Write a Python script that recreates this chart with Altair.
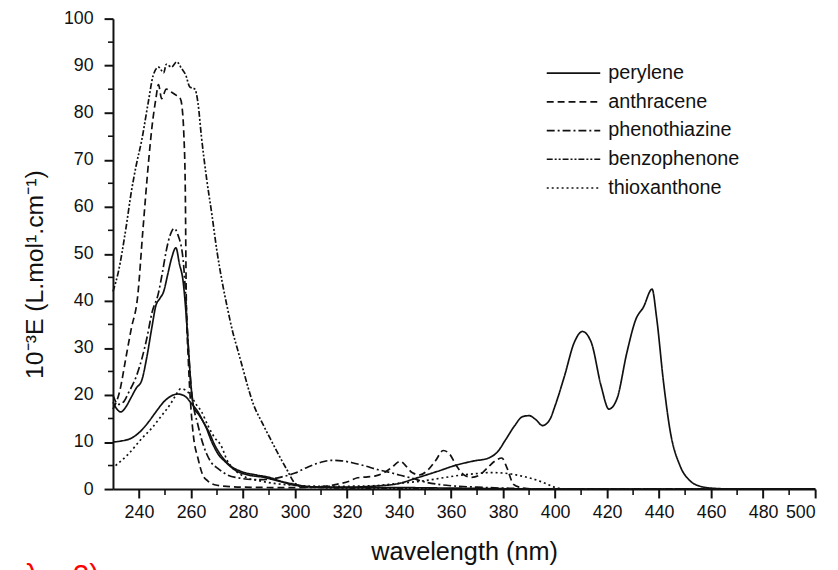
import altair as alt
import pandas as pd

# ---- values (wavelength in nm, 10^-3 E) ----
perylene_nm = [230, 231.5, 233, 235, 237, 239, 241, 243, 245, 246.5, 248, 249.5, 251, 252.5, 254.2, 255.5, 257, 258, 259, 260, 261,
               263, 265.5, 268, 271, 273, 277, 282, 288, 295, 300, 310, 320, 330, 340, 346.5, 355, 361.5, 369, 374, 378, 381,
               384.5, 387.5, 390, 392.5, 395.2, 398, 400, 403.6, 407.4, 410.5, 413.9, 417.7, 420.7, 423.8, 427.6, 431, 434,
               437.3, 439, 441.7, 444.3, 448, 452, 455.7, 460, 470, 500]
perylene_e = [18.5, 17, 16.4, 17.5, 19.5, 21.5, 23, 28, 34.5, 39, 40.5, 42, 45.5, 49, 51.3, 48, 44, 38, 30, 22, 17.5,
              15.8, 13.5, 10, 7, 5.9, 4, 3, 2.5, 1.5, 0.8, 0.4, 0.4, 0.6, 1.2, 2.3, 3.8, 5, 6, 6.5, 8, 10.5,
              13.5, 15.4, 15.6, 14.8, 13.5, 14.8, 17.7, 24, 31.2, 33.5, 31.2, 21.9, 17, 19.2, 29, 36, 38.7,
              42.5, 36.6, 22.7, 12.2, 5, 1.7, 0.6, 0.2, 0, 0]

perylene_b_nm = [230, 233, 237, 241, 244, 246.5, 250, 255, 258, 260, 262.7, 265, 267, 269, 271.5, 275, 279, 285, 290, 295,
                 300, 305, 320, 340, 360, 400, 500]
perylene_b_e = [10, 10.2, 10.8, 12.5, 14.5, 16.4, 18.8, 20.2, 19.6, 18.3, 16.4, 14, 12, 9.5, 7.2, 5, 3.8, 3, 2.5, 1.6,
                1, 0.5, 0.3, 0.3, 0.2, 0, 0]

anthracene_nm = [230, 232.5, 235, 237, 239.5, 241.5, 243.7, 245, 246.5, 247.5, 248.7, 250.5, 252.4, 254.4, 255.9, 256.6, 257.2,
                 257.8, 258.2, 259, 260, 261, 262.7, 264.5, 266.5, 270, 280, 300, 310, 316, 321, 324, 328, 331, 334, 337,
                 340.5, 342.5, 345, 348, 351, 354, 357, 359.5, 362, 365, 368, 371, 374, 377, 379.5, 381.5, 384, 387, 392, 500]
anthracene_e = [17, 20.6, 28, 34, 41, 55, 69.7, 77, 83, 86, 83, 85, 84.4, 83.7, 83, 81, 76,
                64, 40, 27, 17, 11, 6.5, 3, 1.7, 0.8, 0.4, 0.3, 0.5, 1, 1.7, 2.4, 2.6, 2.8, 3.4, 4.5,
                5.9, 5, 3.5, 3, 4, 6, 8.2, 7.4, 5, 3, 2.5, 3, 4.5, 6, 6.6, 4.5, 1, 0.3, 0, 0]

phenothiazine_nm = [230, 232, 234, 236, 239, 241, 243, 245, 247.5, 249, 250.5, 252, 253.5, 255, 257, 258.2, 259, 260, 261,
                    262.5, 264, 266, 268, 270.3, 274, 279, 285, 290, 295, 300, 305, 310, 314, 318, 322, 327, 332, 336,
                    340, 345, 350, 355, 360, 370, 380, 400, 500]
phenothiazine_e = [20, 18, 18.5, 20.5, 24, 27.5, 32, 37.5, 41.7, 46, 50.7, 54, 55.4, 54, 48.6, 38.7, 30, 22, 17.5,
                   14, 10.7, 7.5, 5.5, 4.4, 3, 2.3, 2, 2.1, 2.6, 3.4, 4.7, 5.7, 6.1, 6.0, 5.6, 4.9, 4.1, 3.6,
                   3, 2.3, 1.5, 1, 0.7, 0.4, 0.2, 0, 0]

benzophenone_nm = [230, 232, 235, 237, 239, 241, 243.5, 245.5, 247.5, 249.5, 250.5, 252.5, 254.5, 256.5, 258, 259.5, 261.5,
                   262.7, 264, 266, 268, 270, 272, 274, 276, 278, 280, 282, 284, 287, 290.5, 294, 297, 300, 303, 310,
                   320, 340, 360, 500]
benzophenone_e = [42, 46, 55.5, 63, 69, 74, 82, 88, 89.7, 88.5, 90.3, 89.7, 90.8, 89.3, 88, 85.5, 85,
                  82, 75, 66, 58.5, 50.5, 44, 38.5, 33.5, 29.5, 25.5, 21.5, 18, 14.5, 10.7, 7, 4, 1.2, 0.5, 0.3,
                  0.2, 0.1, 0, 0]

thioxanthone_nm = [231, 236, 241, 245, 248.7, 252, 254, 256, 258, 260, 262, 264, 266.5, 269, 271.5, 274, 277, 281, 286, 292,
                   300, 310, 320, 330, 340, 350, 357, 363, 370, 375, 380, 385, 390, 395, 398, 401, 405, 420]
thioxanthone_e = [5, 7.5, 10.7, 13, 15.6, 18, 19.8, 21.3, 21, 19.8, 18, 16.5, 13.5, 11, 9.3, 6, 4, 2.5, 1.8, 1.2,
                  0.8, 0.6, 0.6, 0.7, 1.2, 1.8, 2.4, 2.9, 3.3, 3.5, 3.4, 3, 2.4, 1.5, 0.8, 0.2, 0, 0]

legend_labels = ["perylene", "anthracene", "phenothiazine", "benzophenone", "thioxanthone"]
dash_patterns = [[1, 0], [7, 4], [8, 3, 2, 3], [6, 2, 2, 2, 2, 2], [2, 3]]

x_major = list(range(240, 501, 20))
x_minor = list(range(250, 500, 20))
y_major = list(range(0, 101, 10))
y_minor = list(range(5, 100, 10))

note_text = ["λ\u00a0\u00a0\u00a0\u00a02)"]

# ---- build tables ----
curves = [
    ("perylene", "perylene_a", perylene_nm, perylene_e),
    ("perylene", "perylene_b", perylene_b_nm, perylene_b_e),
    ("anthracene", "anthracene", anthracene_nm, anthracene_e),
    ("phenothiazine", "phenothiazine", phenothiazine_nm, phenothiazine_e),
    ("benzophenone", "benzophenone", benzophenone_nm, benzophenone_e),
    ("thioxanthone", "thioxanthone", thioxanthone_nm, thioxanthone_e),
]
rows = []
for label, cid, xs, ys in curves:
    for xv, yv in zip(xs, ys):
        rows.append({"nm": xv, "e": yv, "label": label, "curve": cid})
df = pd.DataFrame(rows)

INK = "#111111"
FONT = "Liberation Sans"

x_scale = alt.Scale(domain=[230, 500], nice=False, zero=False)
y_scale = alt.Scale(domain=[0, 100], nice=False)

lines = alt.Chart(df).mark_line(color=INK, strokeWidth=1.7, interpolate="monotone").encode(
    x=alt.X("nm:Q", scale=x_scale,
            axis=alt.Axis(values=x_major, title="wavelength (nm)", labelPadding=6,
                          titleY=71, titleBaseline="alphabetic", titleFontSize=25.5)),
    y=alt.Y("e:Q", scale=y_scale,
            axis=alt.Axis(values=y_major, title="10⁻³E (L.mol¹.cm⁻¹)", labelPadding=11,
                          titleX=-79, titleY=258, titleBaseline="middle", titleAngle=270,
                          titleFontSize=25)),
    strokeDash=alt.StrokeDash("label:N", scale=alt.Scale(domain=legend_labels, range=dash_patterns),
                              legend=alt.Legend(title=None, orient="none", legendX=437, legendY=45,
                                                symbolType="stroke", symbolSize=2916,
                                                symbolStrokeWidth=1.7, symbolStrokeColor=INK,
                                                labelFontSize=20, labelFont=FONT, labelColor=INK,
                                                clipHeight=20, rowPadding=9, labelOffset=7,
                                                padding=0, symbolOffset=0)),
    detail="curve:N",
)

xminor = alt.Chart(pd.DataFrame({"nm": x_minor})).mark_rule(color=INK, strokeWidth=1.6).encode(
    x=alt.X("nm:Q", scale=x_scale), y=alt.value(475), y2=alt.value(481))

yminor = alt.Chart(pd.DataFrame({"e": y_minor})).mark_rule(color=INK, strokeWidth=1.6).encode(
    y=alt.Y("e:Q", scale=y_scale), x=alt.value(-5), x2=alt.value(0))

note = alt.Chart(pd.DataFrame({"t": note_text})).mark_text(
    align="left", baseline="alphabetic", fontSize=30, color="#ff0000", font=FONT).encode(
    text="t:N", x=alt.value(-89), y=alt.value(572))

chart = alt.layer(lines, xminor, yminor, note).properties(
    width=709, height=475,
    autosize=alt.AutoSizeParams(type="none"),
    padding={"left": 106, "top": 8, "right": 15, "bottom": 79},
).configure_view(stroke=None).configure_axis(
    grid=False, domainColor=INK, domainWidth=2, tickColor=INK, tickWidth=2, tickSize=9,
    labelFont=FONT, labelFontSize=18, labelColor=INK, titleFont=FONT, titleFontWeight="normal",
    titleColor=INK,
)

chart.save("out.html", embed_options={"renderer": "svg", "actions": False})
